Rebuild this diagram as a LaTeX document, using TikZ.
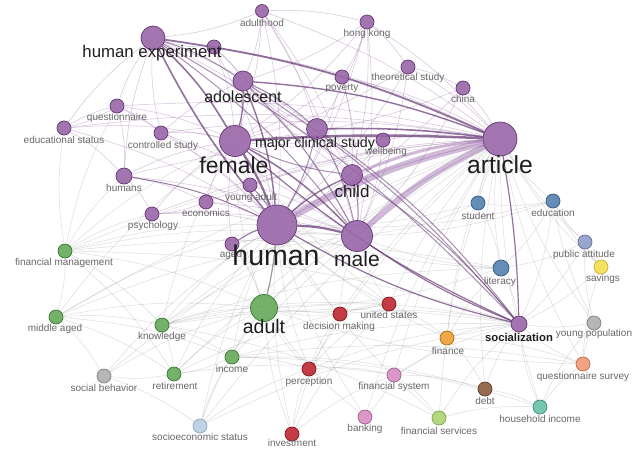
\documentclass[tikz,border=0pt]{standalone}
\usepackage{fontspec}
\setmainfont{Liberation Sans}
\pgfdeclarelayer{bg}
\pgfdeclarelayer{edges}
\pgfsetlayers{bg,edges,main}
\definecolor{cP}{RGB}{152,102,168}\definecolor{cPd}{RGB}{100,55,115}
\definecolor{cB}{RGB}{84,130,175}\definecolor{cBd}{RGB}{50,90,130}
\definecolor{cG}{RGB}{100,170,88}\definecolor{cGd}{RGB}{55,120,50}
\definecolor{cR}{RGB}{190,40,50}\definecolor{cRd}{RGB}{130,20,30}
\definecolor{cO}{RGB}{238,160,50}\definecolor{cOd}{RGB}{175,110,20}
\definecolor{cY}{RGB}{243,222,80}\definecolor{cYd}{RGB}{200,180,50}
\definecolor{cPk}{RGB}{215,140,195}\definecolor{cPkd}{RGB}{160,95,145}
\definecolor{cLG}{RGB}{172,212,112}\definecolor{cLGd}{RGB}{125,165,75}
\definecolor{cBr}{RGB}{140,92,62}\definecolor{cBrd}{RGB}{95,60,40}
\definecolor{cT}{RGB}{105,192,168}\definecolor{cTd}{RGB}{65,140,120}
\definecolor{cS}{RGB}{240,152,118}\definecolor{cSd}{RGB}{190,105,80}
\definecolor{cGy}{RGB}{175,175,175}\definecolor{cGyd}{RGB}{130,130,130}
\definecolor{cLB}{RGB}{182,206,226}\definecolor{cLBd}{RGB}{140,165,190}
\definecolor{cPA}{RGB}{142,157,200}\definecolor{cPAd}{RGB}{100,112,155}
\definecolor{lblgray}{RGB}{105,105,105}
\definecolor{lbldark}{RGB}{30,30,30}
\begin{document}
\begin{tikzpicture}[x=1pt,y=-1pt,
  nd/.style={circle,inner sep=0pt,line width=0.7pt,minimum size=#1,fill opacity=0.9},
  nd/.default=14pt,
  sP/.style={fill=cP,draw=cPd},
  sB/.style={fill=cB,draw=cBd},
  sG/.style={fill=cG,draw=cGd},
  sR/.style={fill=cR,draw=cRd},
  sO/.style={fill=cO,draw=cOd},
  sY/.style={fill=cY,draw=cYd},
  sPk/.style={fill=cPk,draw=cPkd},
  sLG/.style={fill=cLG,draw=cLGd},
  sBr/.style={fill=cBr,draw=cBrd},
  sT/.style={fill=cT,draw=cTd},
  sS/.style={fill=cS,draw=cSd},
  sGy/.style={fill=cGy,draw=cGyd},
  sLB/.style={fill=cLB,draw=cLBd},
  sPA/.style={fill=cPA,draw=cPAd},
  lb/.style={inner sep=0pt,text=lblgray,font=\fontsize{10}{11}\selectfont},
  lbig/.style={inner sep=0pt,text=lbldark,font=\fontsize{#1}{#1}\selectfont},
  fe/.style={draw=gray!80,opacity=0.36,line width=0.45pt},
  pe/.style={draw=cP,opacity=0.4,line width=0.5pt},
  me/.style={draw=cPd,opacity=0.55,line width=1pt},
  he/.style={draw=cPd,opacity=0.7,line width=#1},
  be/.style={draw=cP,opacity=0.45,line width=#1}
]
\useasboundingbox (0,0) rectangle (640,448);
\begin{pgfonlayer}{bg}
\fill[white] (0,0) rectangle (640,448);
\end{pgfonlayer}
% ---- nodes: purple cluster
\node[nd=13pt,sP] (adulthood) at (262,11) {};
\node[nd,sP] (hongkong) at (367,22) {};
\node[nd=24pt,sP] (humexp) at (153,38) {};
\node[nd,sP] (unk) at (214,47) {};
\node[nd=20pt,sP] (adolescent) at (243,81) {};
\node[nd,sP] (poverty) at (342,77) {};
\node[nd,sP] (theor) at (408,67) {};
\node[nd,sP] (china) at (463,88) {};
\node[nd,sP] (quest) at (117,106) {};
\node[nd,sP] (edu) at (64,128) {};
\node[nd,sP] (contr) at (161,133) {};
\node[nd=21pt,sP] (mcs) at (317,129) {};
\node[nd,sP] (wellb) at (383,140) {};
\node[nd=31pt,sP] (female) at (235,141) {};
\node[nd=34pt,sP] (article) at (500,139) {};
\node[nd=21pt,sP] (child) at (352,175) {};
\node[nd=16pt,sP] (humans) at (124,176) {};
\node[nd,sP] (youngad) at (250,185) {};
\node[nd,sP] (econ) at (206,202) {};
\node[nd,sP] (psych) at (152,214) {};
\node[nd=40pt,sP] (human) at (277,225) {};
\node[nd=31pt,sP] (male) at (357,236) {};
\node[nd,sP] (aged) at (232,244) {};
\node[nd=16pt,sP] (social) at (519,324) {};
% blue, yellow
\node[nd,sB] (student) at (478,203) {};
\node[nd,sB] (education) at (553,201) {};
\node[nd=16pt,sB] (literacy) at (501,268) {};
\node[nd,sPA] (pubatt) at (585,242) {};
\node[nd,sY] (savings) at (601,267) {};
% green
\node[nd,sG] (finman) at (65,251) {};
\node[nd=27pt,sG] (adult) at (264,308) {};
\node[nd,sG] (midaged) at (56,317) {};
\node[nd,sG] (knowl) at (162,325) {};
\node[nd,sG] (income) at (232,357) {};
\node[nd,sG] (retire) at (174,374) {};
% others
\node[nd,sGy] (socbeh) at (104,376) {};
\node[nd,sGy] (youngpop) at (594,323) {};
\node[nd,sLB] (socioec) at (200,426) {};
\node[nd,sR] (decis) at (340,314) {};
\node[nd,sR] (us) at (389,304) {};
\node[nd,sR] (percep) at (309,369) {};
\node[nd,sR] (invest) at (292,434) {};
\node[nd,sO] (finance) at (447,338) {};
\node[nd,sPk] (finsys) at (394,375) {};
\node[nd,sPk] (banking) at (365,417) {};
\node[nd,sLG] (finserv) at (439,418) {};
\node[nd,sBr] (debt) at (485,389) {};
\node[nd,sT] (hhinc) at (540,407) {};
\node[nd,sS] (qsurvey) at (583,364) {};
% ---- edges
\begin{pgfonlayer}{edges}
\foreach \a/\b in {finman/human,finman/female,finman/article,finman/adult,finman/humans,finman/psych,finman/midaged,finman/knowl,finman/retire,finman/social,finman/literacy,finman/edu,finman/quest,finman/male,
midaged/human,midaged/adult,midaged/knowl,midaged/retire,midaged/female,midaged/article,midaged/socbeh,midaged/income,midaged/male,
knowl/adult,knowl/human,knowl/article,knowl/income,knowl/retire,knowl/literacy,knowl/social,knowl/male,knowl/female,knowl/finserv,knowl/us,knowl/decis,
income/adult,income/human,income/percep,income/hhinc,income/retire,income/article,income/debt,income/qsurvey,income/social,
retire/adult,retire/human,retire/socbeh,retire/article,retire/finsys,retire/us,
socbeh/human,socbeh/adult,socbeh/article,socbeh/socioec,
socioec/human,socioec/adult,socioec/income,socioec/percep,socioec/social,socioec/article,
invest/percep,invest/decis,invest/human,invest/adult,invest/finsys,invest/us,
percep/decis,percep/human,percep/adult,percep/article,percep/us,percep/social,percep/finsys,
decis/us,decis/human,decis/adult,decis/article,decis/male,decis/social,
us/human,us/male,us/article,us/female,us/adult,us/finance,
finance/article,finance/social,finance/human,finance/literacy,finance/debt,finance/finsys,finance/qsurvey,
finsys/article,finsys/social,finsys/banking,finsys/finserv,finsys/debt,
banking/human,banking/article,banking/adult,
finserv/social,finserv/article,finserv/human,finserv/hhinc,
debt/social,debt/article,debt/hhinc,
hhinc/article,hhinc/social,hhinc/qsurvey,hhinc/youngpop,
qsurvey/social,qsurvey/article,qsurvey/youngpop,qsurvey/savings,qsurvey/adult,
youngpop/social,youngpop/article,youngpop/education,youngpop/pubatt,
savings/article,savings/pubatt,savings/education,savings/social,
pubatt/article,pubatt/education,pubatt/literacy,pubatt/social,
education/article,education/student,education/literacy,education/social,education/human,education/male,
student/article,student/literacy,student/human,student/male,
literacy/article,literacy/social,literacy/human,literacy/male,literacy/adult,
adult/male,adult/female,adult/article,adult/social}
  \draw[fe] (\a) to[bend left=8] (\b);
\foreach \a/\b in {adulthood/humexp,adulthood/adolescent,adulthood/female,adulthood/human,adulthood/article,adulthood/male,adulthood/hongkong,adulthood/mcs,adulthood/child,
hongkong/article,hongkong/human,hongkong/female,hongkong/poverty,hongkong/mcs,hongkong/male,hongkong/adolescent,hongkong/child,hongkong/theor,
poverty/human,poverty/article,poverty/female,poverty/child,poverty/male,
theor/article,theor/human,theor/female,theor/china,theor/male,
china/article,china/human,china/male,china/female,
quest/human,quest/female,quest/humexp,quest/humans,quest/edu,quest/contr,quest/article,
edu/human,edu/female,edu/humexp,edu/humans,edu/article,edu/quest,
contr/human,contr/female,contr/humexp,contr/adolescent,contr/article,contr/male,
humans/human,humans/female,humans/humexp,humans/psych,humans/article,humans/male,humans/econ,
econ/human,econ/female,econ/article,econ/psych,econ/male,
psych/human,psych/female,psych/article,psych/male,
youngad/human,youngad/female,youngad/male,youngad/article,youngad/adolescent,
aged/human,aged/female,aged/male,aged/article,aged/adult,
wellb/article,wellb/human,wellb/female,wellb/child,wellb/male,
unk/humexp,unk/human,unk/female,unk/article,unk/adolescent,unk/male,
mcs/child,mcs/adolescent,humexp/mcs,child/adolescent,humexp/child}
  \draw[pe] (\a) to[bend left=8] (\b);
\foreach \a/\b in {humexp/male,humexp/adolescent,adolescent/male,mcs/human,mcs/male,child/male,child/female,
youngad/human,aged/human,humans/human,adolescent/mcs,child/social,adolescent/social,humexp/social,mcs/social}
  \draw[me] (\a) to[bend left=8] (\b);
\draw[be=7pt] (human) to[bend left=8] (article);
\draw[be=6pt] (male) to[bend left=8] (article);
\draw[be=3pt] (child) to[bend left=8] (article);
\draw[he=2.2pt] (human) to[bend left=6] (male);
\draw[he=2.2pt] (female) to[bend left=6] (human);
\draw[he=2.5pt] (female) to[bend left=3] (article);
\draw[he=1.5pt] (female) to[bend left=8] (male);
\draw[he=1.8pt] (humexp) to[bend left=8] (article);
\draw[he=1.6pt] (humexp) to[bend right=6] (human);
\draw[he=1.6pt] (humexp) to[bend left=8] (female);
\draw[he=1.4pt] (adolescent) to[bend left=8] (human);
\draw[he=1.2pt] (adolescent) to[bend left=8] (female);
\draw[he=1.4pt] (adolescent) to[bend left=8] (article);
\draw[he=1.3pt] (human) to[bend left=8] (child);
\draw[he=1.6pt] (mcs) to[bend left=4] (article);
\draw[he=1.2pt] (human) to[bend right=8] (social);
\draw[he=1.2pt] (male) to[bend right=6] (social);
\draw[he=1.2pt] (female) to[bend right=8] (social);
\draw[he=1.2pt] (article) to[bend left=4] (social);
\draw[draw=black!70,opacity=0.55,line width=1.2pt] (human) to[bend left=4] (adult);
\end{pgfonlayer}
% ---- labels
\node[lb] (adulthood-l) at (262,23) {adulthood};
\node[lb] (hongkong-l) at (367,34) {hong kong};
\node[lb] (poverty-l) at (342,88) {poverty};
\node[lb] (theor-l) at (408,78) {theoretical study};
\node[lb] (china-l) at (463,99) {china};
\node[lb] (quest-l) at (117,118) {questionnaire};
\node[lb] (edu-l) at (64,140) {educational status};
\node[lb] (contr-l) at (163,146) {controlled study};
\node[lb] (wellb-l) at (386,152) {wellbeing};
\node[lb] (humans-l) at (124,188) {humans};
\node[lb] (youngad-l) at (251,198) {young adult};
\node[lb] (econ-l) at (206,213) {economics};
\node[lb] (psych-l) at (153,226) {psychology};
\node[lb] (aged-l) at (231,255) {aged};
\node[lb] (student-l) at (478,216) {student};
\node[lb] (education-l) at (553,213) {education};
\node[lb] (pubatt-l) at (584,255) {public attitude};
\node[lb] (savings-l) at (603,279) {savings};
\node[lb] (literacy-l) at (500,282) {literacy};
\node[lb] (finman-l) at (64,263) {financial management};
\node[lb] (midaged-l) at (55,329) {middle aged};
\node[lb] (knowl-l) at (162,337) {knowledge};
\node[lb] (income-l) at (232,369) {income};
\node[lb] (retire-l) at (175,386) {retirement};
\node[lb] (socbeh-l) at (104,388) {social behavior};
\node[lb] (socioec-l) at (200,437) {socioeconomic status};
\node[lb] (decis-l) at (339,327) {decision making};
\node[lb] (us-l) at (389,315) {united states};
\node[lb] (percep-l) at (309,382) {perception};
\node[lb] (invest-l) at (292,443) {investment};
\node[lb] (finance-l) at (448,351) {finance};
\node[lb] (finsys-l) at (394,387) {financial system};
\node[lb] (banking-l) at (365,429) {banking};
\node[lb] (finserv-l) at (439,431) {financial services};
\node[lb] (debt-l) at (485,401) {debt};
\node[lb] (hhinc-l) at (540,419) {household income};
\node[lb] (qsurvey-l) at (583,377) {questionnaire survey};
\node[lb] (youngpop-l) at (594,334) {young population};
\node[inner sep=0pt,text=lbldark,font=\fontsize{11.3}{12}\selectfont\bfseries] (social-l) at (519,337) {socialization};
\node[lbig=16.8] (humexp-l) at (152,53) {human experiment};
\node[lbig=16] (adolescent-l) at (243,97) {adolescent};
\node[lbig=14.2] (mcs-l) at (315,144) {major clinical study};
\node[lbig=23] (female-l) at (234,165) {female};
\node[lbig=24.7] (article-l) at (500,165) {article};
\node[lbig=17] (child-l) at (352,191) {child};
\node[lbig=28.5] (human-l) at (276,255) {human};
\node[lbig=21] (male-l) at (357,259) {male};
\node[lbig=19.5] (adult-l) at (264,327) {adult};
\end{tikzpicture}
\end{document}
